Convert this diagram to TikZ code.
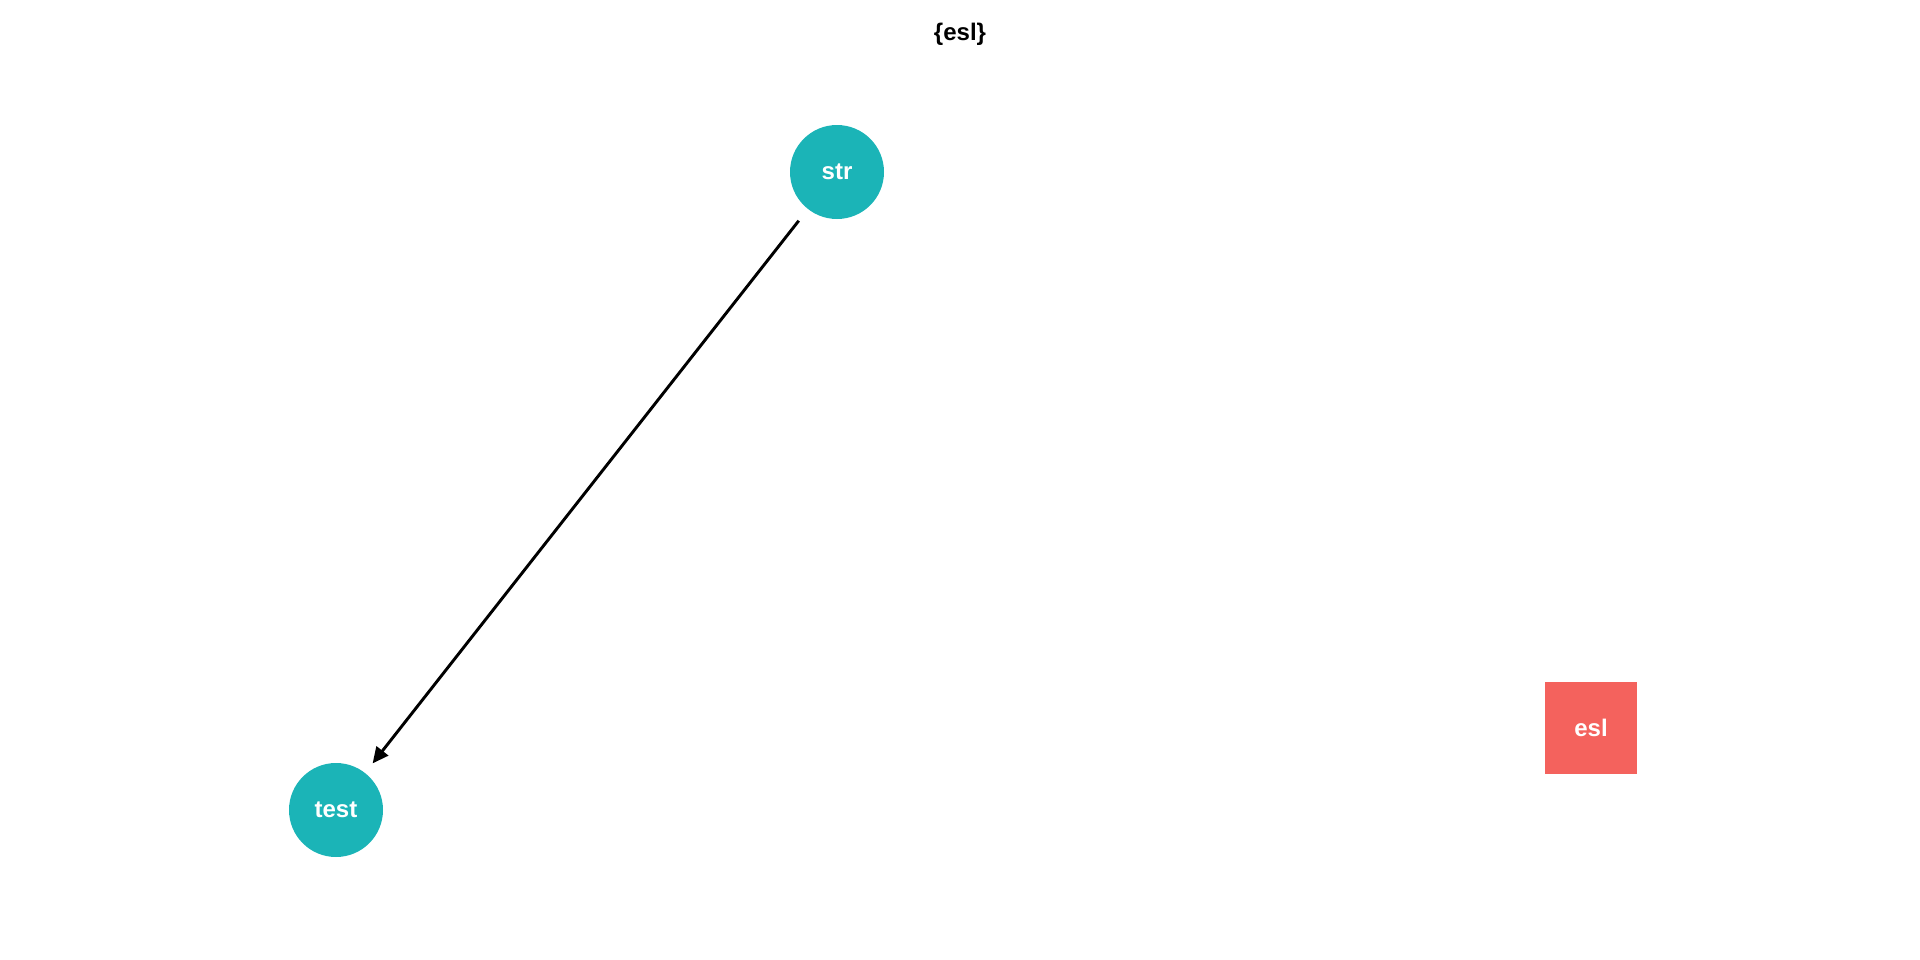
\documentclass[tikz,border=0pt]{standalone}
\usepackage{fontspec}
\setmainfont{Liberation Sans}
\usetikzlibrary{arrows.meta}
\definecolor{pkgteal}{HTML}{1BB4B7}
\definecolor{pkgred}{HTML}{F4625D}
\tikzset{
  pkg/.style={circle,fill=pkgteal,minimum size=70.5pt,inner sep=0pt,text=white,font=\bfseries\fontsize{18}{20}\selectfont},
  root/.style={rectangle,fill=pkgred,minimum size=69pt,inner sep=0pt,text=white,font=\bfseries\fontsize{18}{20}\selectfont},
  dep/.style={line width=2.2pt,-{Triangle[length=12pt,width=11pt]},shorten <=11pt,shorten >=9pt}
}
\begin{document}
\begin{tikzpicture}[x=0.75pt,y=-0.75pt]
\useasboundingbox (0,0) rectangle (1920,960);
\node[font=\bfseries\fontsize{18}{20}\selectfont] (title) at (960,34) {\{esl\}};
\node[pkg] (str) at (837,172) {str};
\node[pkg] (test) at (336,810) {test};
\node[root] (esl) at (1591,728) {esl};
\draw[dep] (str) -- (test);
\end{tikzpicture}
\end{document}
